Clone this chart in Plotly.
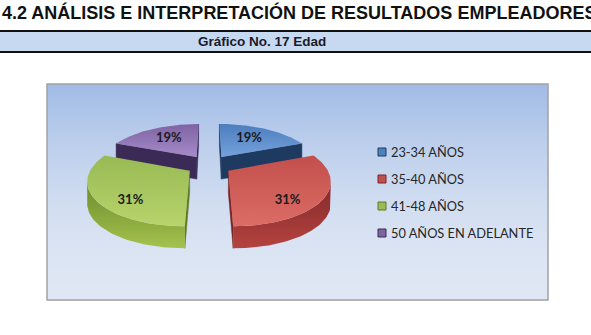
import numpy as np
import plotly.graph_objects as go

# ---------------- data ----------------
categories = ["23-34 AÑOS", "35-40 AÑOS", "41-48 AÑOS", "50 AÑOS EN ADELANTE"]
values = [19, 31, 31, 19]          # percent
title_text = "4.2 ANÁLISIS E INTERPRETACIÓN DE RESULTADOS EMPLEADORES"
subtitle_text = "Gráfico No. 17 Edad"

# ---------------- style ----------------
W, H = 591, 335
top_grad = [("#74a2dc", "#4c7dbd"), ("#dc6c66", "#c24f4b"),
            ("#b8d46c", "#98b954"), ("#a58cc9", "#7f62a3")]
rim_grad = [("#3d6aa3", "#213f66"), ("#b5433f", "#82292a"),
            ("#a3c24e", "#6d8b2b"), ("#6d5294", "#3e2c5a")]
cut_col = ["#1f3a60", "#7c2523", "#5f7a22", "#3b2a55"]
legend_col = ["#4f81bd", "#c0504d", "#9bbb59", "#8064a2"]

CX, CY = 209.0, 165.0
AX, BY, PERSP = 97.0, 42.3, 0.194
DEPTH = 22.0
EXPLODE = 0.235
START = 90.0
NPTS = 80


def proj(X, Y, bottom=False):
    w = 1.0 + PERSP * Y
    return CX + AX * X / w, CY - BY * Y / w + (DEPTH if bottom else 0.0)


fig = go.Figure()

total = float(sum(values))
slices = []
cum = 0.0
for i, v in enumerate(values):
    a_hi = START - cum / total * 360.0
    a_lo = a_hi - v / total * 360.0
    cum += v
    mid = np.radians((a_lo + a_hi) / 2)
    ox, oy = EXPLODE * np.cos(mid), EXPLODE * np.sin(mid)
    slices.append((i, a_lo, a_hi, mid, ox, oy))

# draw far slices first
order = sorted(slices, key=lambda s: -s[5])

for (i, a_lo, a_hi, mid, ox, oy) in order:
    th = np.radians(np.linspace(a_lo, a_hi, NPTS))
    Xs, Ys = ox + np.cos(th), oy + np.sin(th)
    tx, ty = proj(Xs, Ys)
    bx, by = proj(Xs, Ys, bottom=True)
    vx, vy = proj(ox, oy)
    vbx, vby = proj(ox, oy, bottom=True)

    # cut faces
    for k, cond in ((0, tx[0] > vx), (-1, tx[-1] < vx)):
        if cond:
            fig.add_trace(go.Scatter(
                x=[vx, tx[k], bx[k], vbx, vx], y=[vy, ty[k], by[k], vby, vy],
                mode="lines", fill="toself", fillcolor=cut_col[i],
                line=dict(color=cut_col[i], width=0.5),
                hoverinfo="skip", showlegend=False))

    # outer rim (visible where the arc moves right)
    vis = np.diff(tx) > 0
    if vis.any():
        idx = np.where(vis)[0]
        k0, k1 = idx[0], idx[-1] + 1
        px = list(tx[k0:k1 + 1]) + list(bx[k0:k1 + 1][::-1])
        py = list(ty[k0:k1 + 1]) + list(by[k0:k1 + 1][::-1])
        px.append(px[0]); py.append(py[0])
        fig.add_trace(go.Scatter(
            x=px, y=py, mode="lines", fill="toself",
            fillgradient=dict(type="vertical",
                              colorscale=[[0, rim_grad[i][0]], [1, rim_grad[i][1]]]),
            line=dict(color=rim_grad[i][1], width=0),
            hoverinfo="skip", showlegend=False))

    # top face
    fx = [vx] + list(tx) + [vx]
    fy = [vy] + list(ty) + [vy]
    fig.add_trace(go.Scatter(
        x=fx, y=fy, mode="lines", fill="toself",
        fillgradient=dict(type="vertical",
                          colorscale=[[0, top_grad[i][0]], [1, top_grad[i][1]]]),
        line=dict(color=top_grad[i][1], width=0),
        hoverinfo="skip", showlegend=False))

# data labels
lab_x, lab_y, lab_t = [], [], []
for (i, a_lo, a_hi, mid, ox, oy) in slices:
    front = np.sin(mid) < 0
    r = 0.65 if front else 0.6
    lx, ly = proj(ox + r * np.cos(mid), oy + r * np.sin(mid))
    if front:
        ly += 0.55 * DEPTH
    lab_x.append(lx); lab_y.append(ly)
    lab_t.append("<b>%d%%</b>" % round(values[i] / total * 100))
fig.add_trace(go.Scatter(
    x=lab_x, y=lab_y, mode="text", text=lab_t, cliponaxis=False,
    textfont=dict(family="Lato", size=13, color="#1b1b1b"),
    hoverinfo="skip", showlegend=False))

# legend (manual)
LEG_X, LEG_Y0, LEG_DY = 382, 152, 27
leg_y = [LEG_Y0 + j * LEG_DY for j in range(len(categories))]
fig.add_trace(go.Scatter(
    x=[LEG_X] * len(categories), y=leg_y, mode="markers",
    marker=dict(symbol="square", size=8, color=legend_col,
                line=dict(color=cut_col, width=1)),
    hoverinfo="skip", showlegend=False, cliponaxis=False))

annotations = []
for j, c in enumerate(categories):
    annotations.append(dict(x=LEG_X + 7, y=leg_y[j], xref="x", yref="y", text=c,
                            showarrow=False, xanchor="left", yanchor="middle",
                            font=dict(family="Lato", size=12.8, color="#262626")))

annotations.append(dict(x=0, y=12, xref="x", yref="y", text="<b>%s</b>" % title_text,
                        showarrow=False, xanchor="left", yanchor="middle",
                        font=dict(family="Liberation Sans", size=18, color="#111111")))
annotations.append(dict(x=262, y=41.5, xref="x", yref="y", text="<b>%s</b>" % subtitle_text,
                        showarrow=False, xanchor="center", yanchor="middle",
                        font=dict(family="Liberation Sans", size=13.5, color="#1a1a2a")))

# shapes: header band + chart box gradient
shapes = []
shapes.append(dict(type="rect", xref="x", yref="y", x0=0, x1=W, y0=31, y1=52,
                   fillcolor="#c6d9f1", line=dict(width=0), layer="below"))
shapes.append(dict(type="line", xref="x", yref="y", x0=0, x1=W, y0=31, y1=31,
                   line=dict(color="#111111", width=2), layer="below"))
shapes.append(dict(type="line", xref="x", yref="y", x0=0, x1=W, y0=52, y1=52,
                   line=dict(color="#111111", width=2), layer="below"))

BX0, BX1, BY0, BY1 = 47, 548, 84, 300
top_rgb = np.array([160, 187, 230])
bot_rgb = np.array([223, 231, 244])
nb = 108
edges = np.linspace(BY0, BY1, nb + 1)
for k in range(nb):
    t = (k + 0.5) / nb
    c = bot_rgb + (top_rgb - bot_rgb) * (1 - t) ** 1.8
    shapes.append(dict(type="rect", xref="x", yref="y", x0=BX0, x1=BX1,
                       y0=edges[k], y1=edges[k + 1] + 0.5,
                       fillcolor="rgb(%d,%d,%d)" % tuple(c.round().astype(int)),
                       line=dict(width=0), layer="below"))
shapes.append(dict(type="rect", xref="x", yref="y", x0=BX0, x1=BX1, y0=BY0, y1=BY1,
                   fillcolor="rgba(0,0,0,0)", line=dict(color="#a3a3a3", width=1.5),
                   layer="below"))

fig.update_layout(
    width=W, height=H, margin=dict(l=0, r=0, t=0, b=0),
    paper_bgcolor="white", plot_bgcolor="white",
    xaxis=dict(range=[0, W], visible=False, fixedrange=True),
    yaxis=dict(range=[H, 0], visible=False, fixedrange=True),
    shapes=shapes, annotations=annotations, showlegend=False,
)

fig.write_html("out.html")
